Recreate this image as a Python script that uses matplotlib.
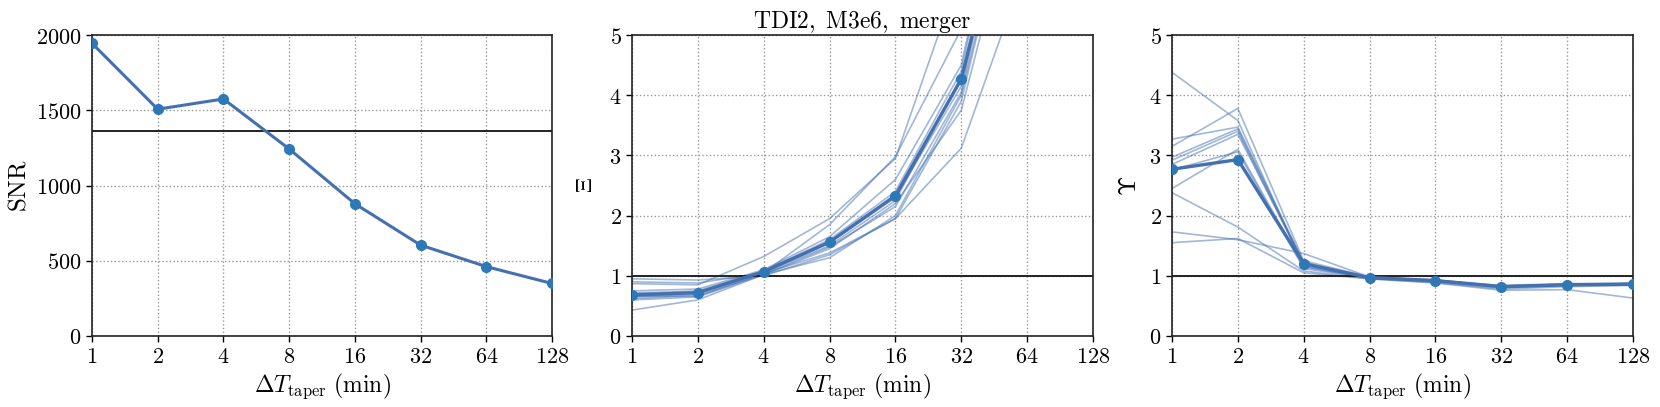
import matplotlib
matplotlib.use("Agg")
import matplotlib.pyplot as plt
import numpy as np

plt.rcParams['mathtext.fontset'] = 'cm'
plt.rcParams['font.family'] = ['DejaVu Serif']

x_vals = [1, 2, 4, 8, 16, 32, 64, 128]
x_labels = ['1', '2', '4', '8', '16', '32', '64', '128']

snr = [1945, 1507, 1575, 1243, 879, 604, 461, 349]
snr_ref = 1365

xi_mean = [0.68, 0.72, 1.07, 1.56, 2.33, 4.27, 8.6, 18.0]
xi_runs = [
    [0.95, 0.93, 1.00, 1.35, 1.95, 3.12, 6.2, 12.0],
    [0.87, 0.85, 1.32, 1.95, 2.95, 6.1, 12.0, 25.0],
    [0.90, 0.88, 1.05, 1.85, 2.98, 5.1, 10.0, 20.0],
    [0.43, 0.60, 1.02, 1.45, 2.20, 3.75, 8.0, 16.0],
    [0.65, 0.70, 1.05, 1.55, 2.30, 4.15, 9.0, 18.0],
    [0.62, 0.68, 1.03, 1.48, 2.15, 4.05, 9.0, 18.0],
    [0.70, 0.75, 1.08, 1.60, 2.40, 4.40, 9.5, 20.0],
    [0.72, 0.73, 1.06, 1.50, 2.25, 4.30, 9.0, 18.0],
    [0.66, 0.66, 1.04, 1.38, 1.95, 3.90, 8.5, 17.0],
    [0.60, 0.65, 1.02, 1.30, 2.00, 4.00, 8.5, 17.0],
    [0.75, 0.78, 1.10, 1.65, 2.60, 4.50, 9.5, 20.0],
    [0.68, 0.72, 1.07, 1.55, 2.35, 4.25, 9.0, 19.0],
]

ups_mean = [2.77, 2.93, 1.20, 0.97, 0.92, 0.82, 0.85, 0.86]
ups_runs = [
    [4.38, 3.58, 1.15, 0.96, 0.91, 0.82, 0.85, 0.86],
    [3.27, 3.47, 1.22, 0.97, 0.92, 0.83, 0.86, 0.87],
    [3.15, 3.78, 1.25, 0.98, 0.93, 0.82, 0.86, 0.87],
    [2.97, 3.44, 1.20, 0.97, 0.92, 0.81, 0.85, 0.86],
    [2.92, 3.40, 1.18, 0.97, 0.91, 0.82, 0.85, 0.86],
    [2.85, 3.35, 1.22, 0.96, 0.92, 0.83, 0.86, 0.87],
    [2.76, 3.06, 1.12, 0.96, 0.90, 0.80, 0.84, 0.85],
    [2.45, 3.10, 1.15, 0.97, 0.92, 0.82, 0.85, 0.86],
    [2.38, 1.81, 1.08, 0.95, 0.88, 0.76, 0.77, 0.63],
    [1.73, 1.60, 1.37, 0.98, 0.93, 0.84, 0.87, 0.88],
    [1.55, 1.62, 1.05, 0.95, 0.89, 0.78, 0.82, 0.84],
]

line_c = '#4470b0'
mark_c = '#2f78b8'

fig = plt.figure(figsize=(16.6, 4.07), dpi=100)
W, H = 1660, 407
boxes = [(92, 552), (632, 1093), (1172, 1633)]
top, bot = 35, 336
axes = [fig.add_axes([l / W, (H - bot) / H, (r - l) / W, (bot - top) / H]) for l, r in boxes]

def style(ax, yt):
    ax.set_xscale('log', base=2)
    ax.set_xlim(1, 128)
    ax.set_xticks(x_vals)
    ax.set_xticklabels(['$%s$' % s for s in x_labels])
    ax.minorticks_off()
    ax.set_yticks(yt)
    ax.set_yticklabels(['$%d$' % v for v in yt])
    ax.grid(True, linestyle=':', color='#999999', linewidth=1.0)
    ax.tick_params(labelsize=16, direction='out', length=4, width=1)
    for s in ax.spines.values():
        s.set_color('#222222')
        s.set_linewidth(1.2)
    ax.set_xlabel(r'$\Delta T_{\mathrm{taper}}\ \mathrm{(min)}$', fontsize=17, labelpad=2)

ax = axes[0]
ax.plot(x_vals, snr, color=line_c, lw=2.2, marker='o', ms=7, mfc=mark_c, mec=mark_c, zorder=3)
ax.axhline(snr_ref, color='#222222', lw=1.4)
ax.set_ylim(0, 2000)
style(ax, [0, 500, 1000, 1500, 2000])
ax.set_ylabel(r'$\mathrm{SNR}$', fontsize=18, labelpad=4)

ax = axes[1]
for r in xi_runs:
    ax.plot(x_vals, r, color=line_c, lw=1.2, alpha=0.5)
ax.plot(x_vals, xi_mean, color=line_c, lw=2.4, marker='o', ms=7, mfc=mark_c, mec=mark_c, zorder=3)
ax.axhline(1, color='#222222', lw=1.4)
ax.set_ylim(0, 5)
style(ax, [0, 1, 2, 3, 4, 5])
ax.set_ylabel(r'$\Xi$', fontsize=16, labelpad=9)
ax.set_title(r'$\mathrm{TDI2,\ M3e6,\ merger}$', fontsize=17, pad=4)

ax = axes[2]
for r in ups_runs:
    ax.plot(x_vals, r, color=line_c, lw=1.2, alpha=0.5)
ax.plot(x_vals, ups_mean, color=line_c, lw=2.4, marker='o', ms=7, mfc=mark_c, mec=mark_c, zorder=3)
ax.axhline(1, color='#222222', lw=1.4)
ax.set_ylim(0, 5)
style(ax, [0, 1, 2, 3, 4, 5])
ax.set_ylabel(r'$\Upsilon$', fontsize=18, labelpad=6)

fig.savefig('out.png', dpi=100)
